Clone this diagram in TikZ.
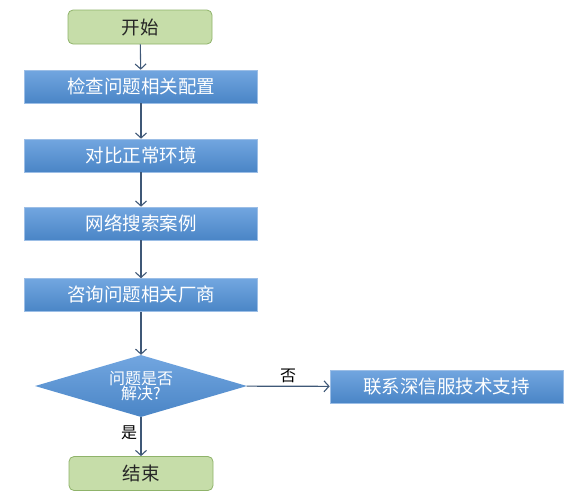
\documentclass[tikz,border=0pt]{standalone}
\usepackage{fontspec}
\setmainfont{Noto Sans CJK SC}
\usetikzlibrary{shapes.geometric,arrows.meta}
\definecolor{btop}{HTML}{72A6E0}
\definecolor{bbot}{HTML}{4A85C6}
\definecolor{bline}{HTML}{9CBEE6}
\definecolor{gfill}{HTML}{C6DDA9}
\definecolor{gline}{HTML}{8FB36A}
\definecolor{arr}{HTML}{3F5877}
\begin{document}
\begin{tikzpicture}[x=1pt,y=-1pt,
  procbox/.style={draw=bline,line width=0.6pt,top color=btop,bottom color=bbot,text=white,
    minimum width=233pt,minimum height=33pt,inner sep=0pt,font=\fontsize{18.5}{21}\selectfont},
  termbox/.style={draw=gline,line width=0.8pt,fill=gfill,rounded corners=5pt,text=black!85,
    minimum width=144pt,minimum height=34pt,inner sep=0pt,font=\fontsize{18.5}{21}\selectfont},
  decbox/.style={diamond,aspect=3.4,draw=none,top color=btop,bottom color=bbot,text=white,
    minimum width=212pt,minimum height=62pt,inner sep=0pt,align=center,
    font=\fontsize{16}{18}\selectfont},
  flow/.style={draw=arr,line width=1.1pt,-{Straight Barb[length=5pt,width=11pt,line width=1.1pt]}},
  lab/.style={font=\fontsize{16}{18}\selectfont,text=black}]
\useasboundingbox (0,0) rectangle (588,496);
\node[termbox] (start) at (140,27) {开始};
\node[procbox] (p1) at (141,86.5) {检查问题相关配置};
\node[procbox] (p2) at (141,155.5) {对比正常环境};
\node[procbox] (p3) at (141,223.5) {网络搜索案例};
\node[procbox] (p4) at (141,295) {咨询问题相关厂商};
\node[decbox] (d) at (141,386) {问题是否\\[-3pt]解决?};
\node[procbox] (sup) at (446.5,386.5) {联系深信服技术支持};
\node[termbox] (end) at (141,473.5) {结束};
\draw[flow] (start) -- (p1);
\draw[flow] (p1) -- (p2);
\draw[flow] (p2) -- (p3);
\draw[flow] (p3) -- (p4);
\draw[flow] (p4) -- (d);
\draw[flow] (d) -- node[lab,above] {否} (sup);
\draw[flow] (d) -- node[lab,left,pos=0.4] {是} (end);
\end{tikzpicture}
\end{document}
